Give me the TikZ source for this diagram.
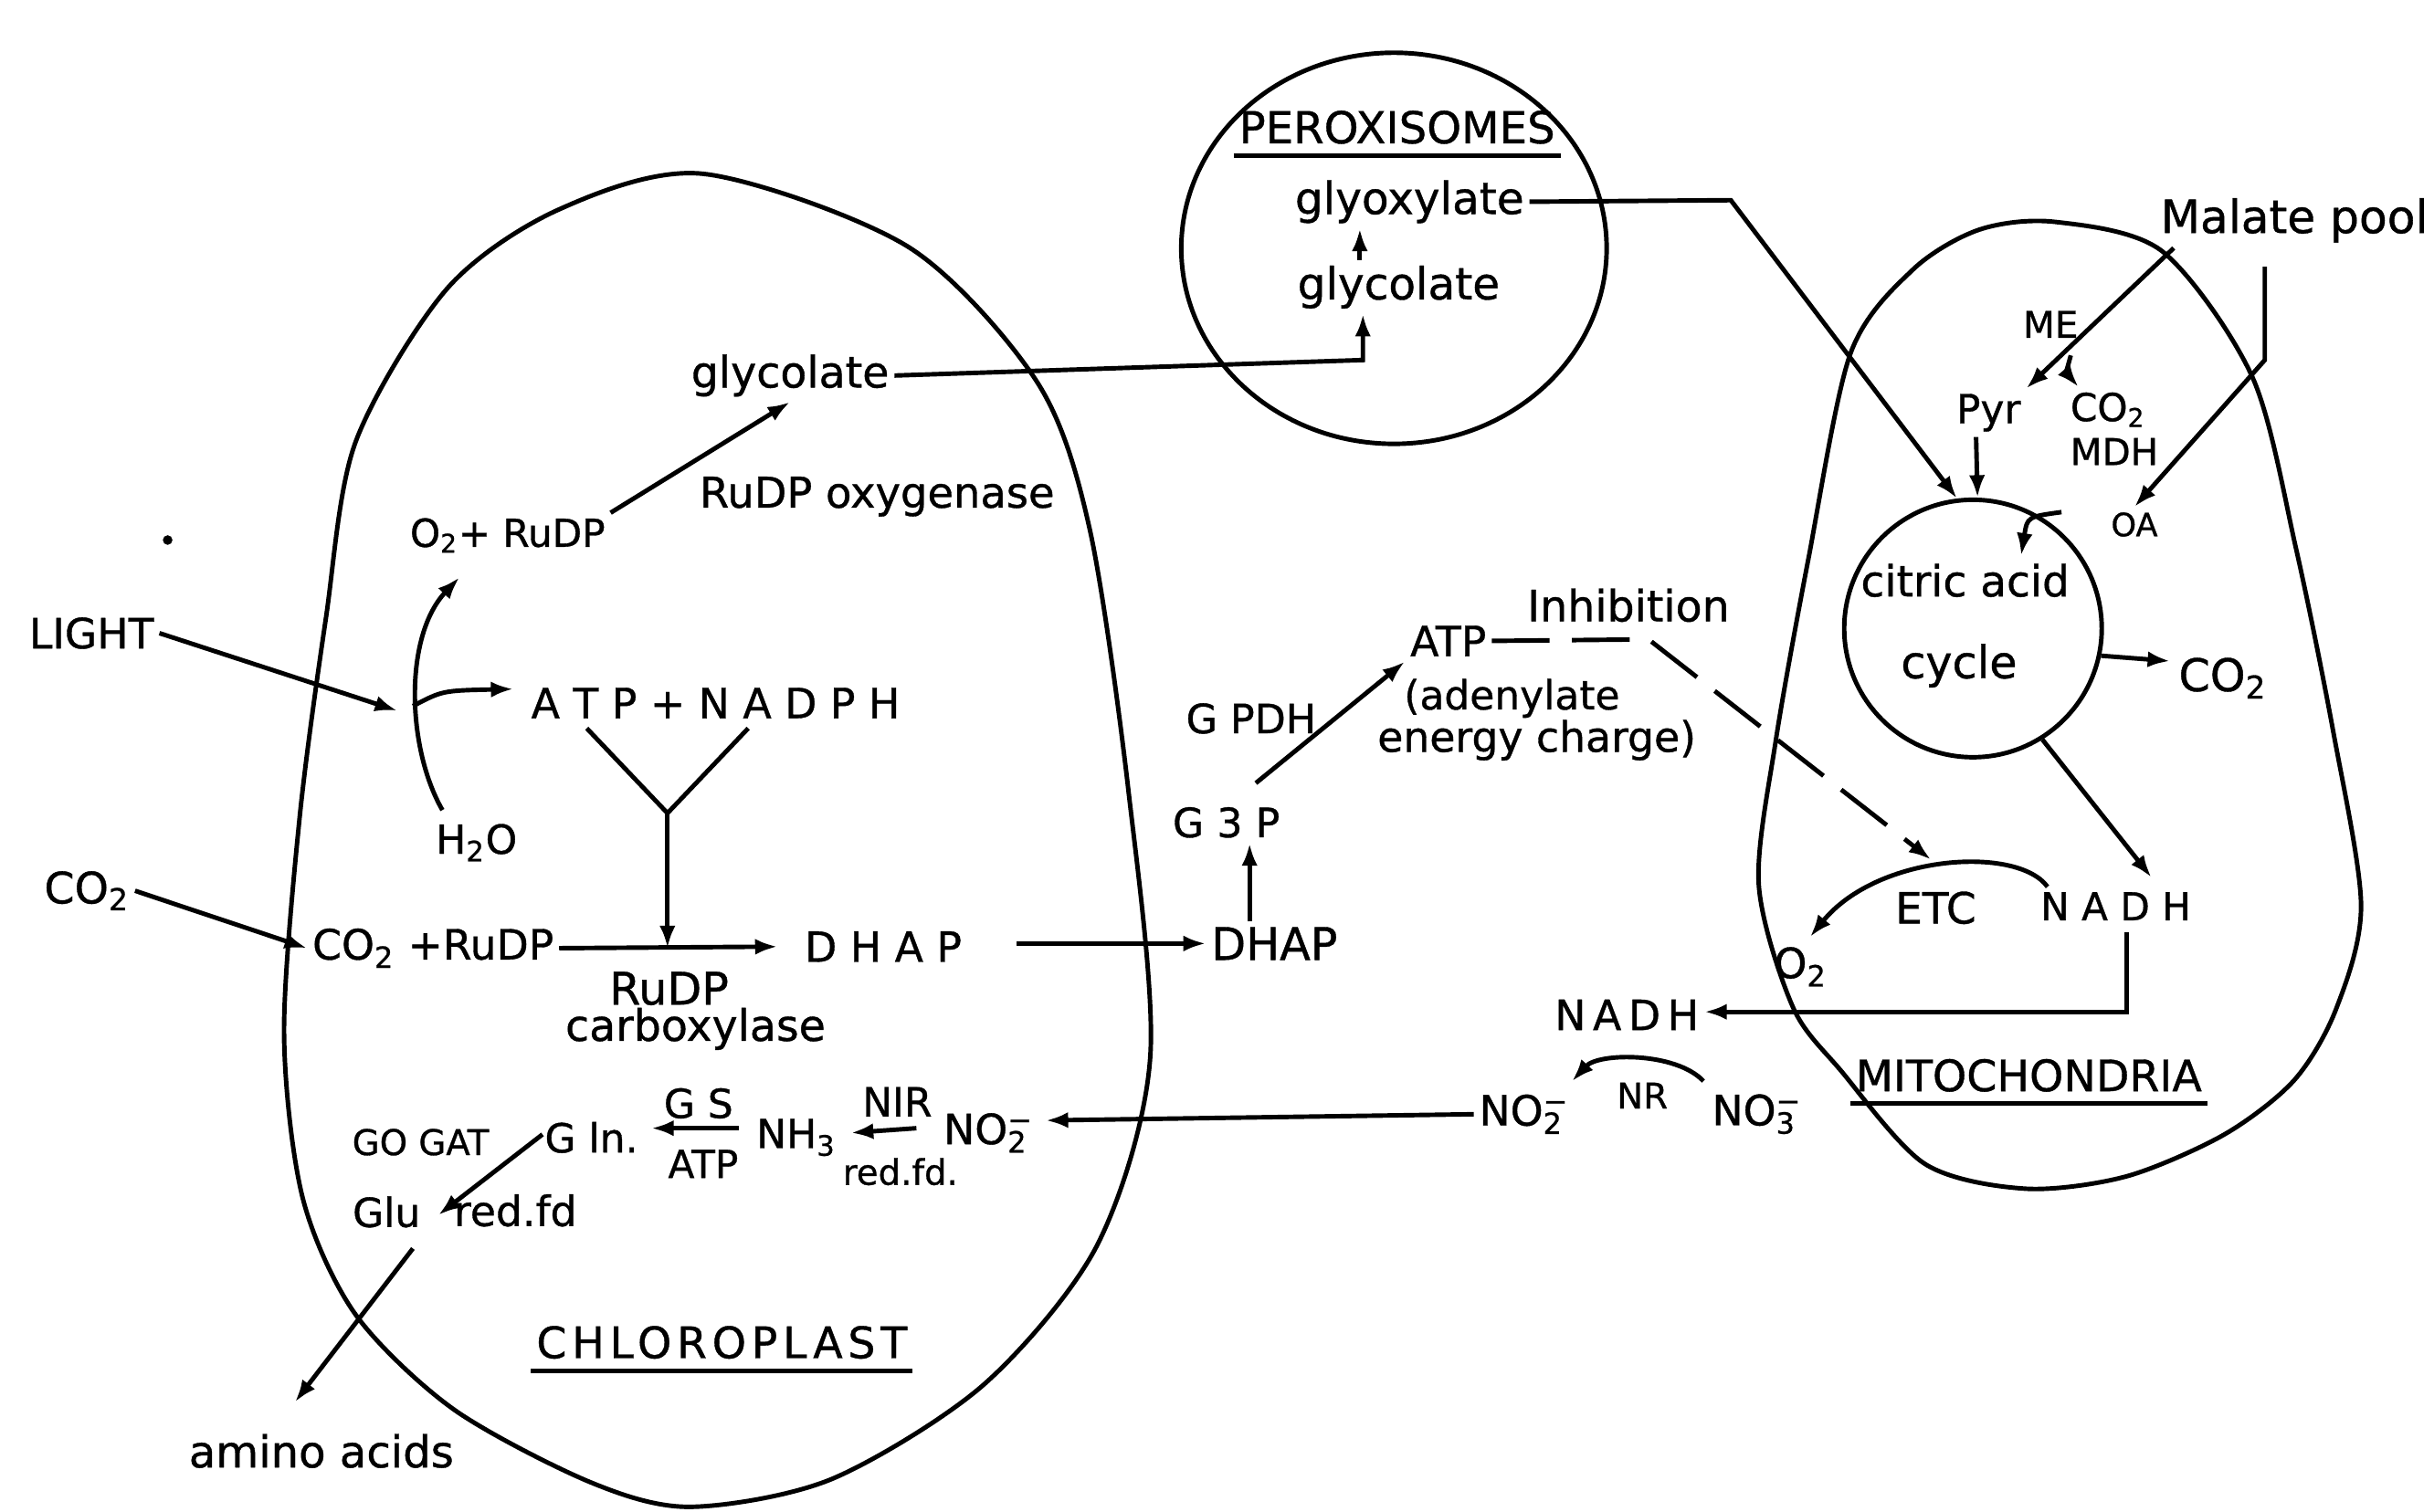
\documentclass[tikz,border=0pt]{standalone}
\usepackage{fontspec}
\setmainfont[FakeBold=0.8]{DejaVu Sans}
\newfontfamily\widefont[LetterSpace=12,FakeBold=0.8]{DejaVu Sans}
\usetikzlibrary{arrows.meta,calc}
\newcommand\fsz[1]{\fontsize{#1}{#1}\selectfont}
\newcommand\ionlbl[2]{\makebox[0pt][l]{\textsuperscript{#2}}\textsubscript{#1}}

\begin{document}
\begin{tikzpicture}
  [x=0.017cm,y=-0.017cm,line width=1.4pt,
   every node/.style={inner sep=1pt,font=\fsz{13}},
   f/.style={font=\fsz{#1}},
   arr/.style={-{Latex[length=7pt,width=5pt]}}]
  \useasboundingbox (0,0) rectangle (1568,974);

  % organelles
  \draw plot[smooth cycle] coordinates {(453,112) (585,159) (668,246) (702,341)
    (727,510) (741,681) (707,802) (634,892) (536,953) (445,971) (380,955)
    (292,908) (229,847) (195,772) (183,666) (193,527) (210,398) (229,285)
    (288,186) (360,135)};
  \draw plot[smooth cycle] coordinates {(1324,143) (1393,162) (1451,243)
    (1479,353) (1503,471) (1521,583) (1505,650) (1478,696) (1433,731)
    (1370,758) (1305,766) (1240,750) (1186,690) (1155,649) (1133,570)
    (1144,477) (1165,360) (1192,228) (1232,174) (1275,148)};
  \draw (898,160) ellipse [x radius=2.329cm, y radius=2.142cm];
  \node[draw,circle,minimum size=2.82cm,inner sep=0pt] (cyc) at (1271,405) {};
  \fill (108,348) circle (1.5pt);

  % chloroplast
  \node (light) at (59,408) {LIGHT};
  \node[f=13.5] (co2out) at (56,574) {CO\textsubscript{2}};
  \node[f=12] (o2rudp) at (327,345) {O\textsubscript{2}+ RuDP};
  \node[f=12.5] (h2o) at (307,543) {H\textsubscript{2}O};
  \node (atpnadph) at (461,453) {A T P + N A D P H};
  \node[f=13.5] (glycc) at (509,242) {glycolate};
  \node[f=13.2] (oxy) at (565,320) {RuDP oxygenase};
  \node (co2rudp) at (279,611) {CO\textsubscript{2} +RuDP};
  \node (dhapc) at (569,610) {D H A P};
  \node[f=14] (rudp) at (431,637) {RuDP};
  \node[f=13.5] (carb) at (448,663) {carboxylase};
  \node[f=11] (gogat) at (271,736) {GO GAT};
  \node[f=12.5] (gln) at (381,733) {G ln.};
  \node[f=12.5] (gs) at (450,711) {G S};
  \node[f=12] (atpgs) at (453,750) {ATP};
  \node[f=12.5] (nh3) at (513,733) {NH\textsubscript{3}};
  \node[f=12.5] (nir) at (578,710) {NIR};
  \node[f=11] (redfd) at (580,755) {red.fd.};
  \node (no2c) at (635,730) {NO\ionlbl{2}{−}};
  \node[f=12.5] (glu) at (249,781) {Glu};
  \node (redfd2) at (332,780) {red.fd};
  \node[f=13.7] (amino) at (207,935) {amino acids};
  \node[f=13.5] (chloro) at (465,865) {\widefont CHLOROPLAST};

  % peroxisomes
  \node[f=13.7] (perox) at (900,82) {PEROXISOMES};
  \node[f=13.8] (glyox) at (908,130) {glyoxylate};
  \node[f=13.8] (glycp) at (901,185) {glycolate};

  % cytosol
  \node[f=14] (dhapr) at (821,608) {DHAP};
  \node[f=12.6] (g3p) at (790,530) {G 3 P};
  \node[f=12.6] (gpdh) at (806,463) {G PDH};
  \node (atpm) at (933,413) {ATP};
  \node[f=13.5] (inhib) at (1049,390) {Inhibition};
  \node[f=12.5] (adenyl) at (974,450) {(adenylate};
  \node (energy) at (990,477) {energy charge)};
  \node (nadhc) at (1048,654) {N\,A\,D\,H};
  \node (no2m) at (980,718) {NO\ionlbl{2}{−}};
  \node[f=11] (nr) at (1058,706) {NR};
  \node (no3) at (1130,718) {NO\ionlbl{3}{−}};

  % mitochondria
  \node[f=14.3] (malate) at (1478,142) {Malate pool};
  \node[f=11.5] (me) at (1321,209) {ME};
  \node[f=12.5] (pyr) at (1281,266) {Pyr};
  \node[f=12] (co2m) at (1358,264) {CO\textsubscript{2}};
  \node[f=11.5] (mdh) at (1362,291) {MDH};
  \node[f=10] (oa) at (1375,338) {OA};
  \node[f=13.4] (citric) at (1266,374) {citric acid};
  \node[f=14] (cycl) at (1262,429) {cycle};
  \node[f=14] (co2r) at (1432,437) {CO\textsubscript{2}};
  \node[f=13.4] (etc) at (1247,585) {ETC};
  \node[f=12] (nadhm) at (1363,584) {N A D H};
  \node (o2m) at (1160,623) {O\textsubscript{2}};
  \node[f=13.5] (mito) at (1307,693) {MITOCHONDRIA};

  \foreach \n in {chloro,perox,mito}
    \draw ([yshift=-2pt]\n.south west) -- ([yshift=-2pt]\n.south east);

  % bends and loose ends
  \coordinate (lgt) at (256,458);
  \coordinate (arcb) at (285,522);
  \coordinate (arct) at (296,372);
  \coordinate (arcm) at (266,455);
  \coordinate (gbend) at (878,232);
  \coordinate (xbend) at (1115,129);
  \coordinate (yjoin) at (430,524);
  \coordinate (dsh) at (1062,412);
  \coordinate (etcin) at (1244,554);
  \coordinate (mbend) at (1459,232);
  \coordinate (nbend) at (1370,652);
  \coordinate (mebr) at (1334,229);
  \coordinate (oain) at (1328,330);
  \coordinate (oatip) at (1302,358);

  \foreach \from/\to in {light.east/lgt, co2out.east/co2rudp.west,
      o2rudp.north east/glycc.south}
    \draw[arr] (\from) -- (\to);

  \draw[arr] (arcb) .. controls (262,482) and (260,410) .. (arct);
  \draw[arr] (arcm) .. controls (285,445) .. ($(atpnadph.west)+(-8,-9)$);
  \draw[arr] (glycc.east) -- (gbend) -- (gbend |- glycp.south);
  \draw[arr] ($(glycp.north)+(-25,0)$) -- ($(glyox.south)+(-32,0)$);
  \draw[arr] (glyox.east) -- (xbend) -- (cyc.97);
  \draw[arr] ($(pyr.south)+(-8,0)$) -- (cyc.88);
  \draw[arr] ($(malate.south west)+(12,0)$) -- (pyr.north east);
  \draw[arr] (mebr) .. controls (1331,240) .. ($(co2m.north)+(-19,0)$);
  \draw[arr] ($(malate.south)+(-19,12)$) -- (mbend) -- (oa.north);
  \draw[arr] (oain) .. controls (1306,333) .. (oatip);
  \draw[arr] (cyc.-12) -- ($(co2r.west)+(-2,-11)$);
  \draw[arr] (cyc.-58) -- ($(nadhm.north)+(23,-6)$);
  \draw[arr] ($(nadhm.north west)+(8,0)$) .. controls (1300,545) and (1210,550)
    .. ($(o2m.north)+(6,-3)$);
  \draw[arr,dash pattern=on 18pt off 7pt] (atpm.east) -- (dsh) -- (etcin);
  \draw[arr] ($(g3p.north)+(19,-12)$) -- (atpm.south west);
  \draw[arr] ($(dhapr.north)+(-16,0)$) -- ($(g3p.south)+(15,0)$);
  \draw[arr] ($(dhapc.east)+(32,-2)$) -- (dhapr.west);
  \draw[arr] (co2rudp.east) -- ($(dhapc.west)+(-14,0)$);
  \draw ($(atpnadph.south)+(-83,3)$) -- (yjoin) -- ($(atpnadph.south)+(21,3)$);
  \draw[arr] (yjoin) -- (yjoin |- co2rudp.east);
  \draw[arr] ($(nadhm.south)+(7,4)$) -- (nbend) -- (nbend -| nadhc.east);
  \draw[arr] ($(no3.north west)+(-2,-5)$) .. controls (1080,678) and (1030,678)
    .. ($(no2m.north east)+(2,-5)$);
  \draw[arr] (no2m.west) -- ($(no2c.east)+(8,-8)$);
  \draw[arr] ($(no2c.west)+(-14,-3)$) -- ($(nh3.east)+(6,-3)$);
  \draw[arr] ($(nh3.west)+(-8,-6)$) -- ($(gln.east)+(5,-6)$);
  \draw[arr] ($(gln.west)+(2,-2)$) -- ($(glu.east)+(8,2)$);
  \draw[arr] ($(glu.south)+(17,10)$) -- ($(amino.north)+(-17,-17)$);
\end{tikzpicture}
\end{document}
